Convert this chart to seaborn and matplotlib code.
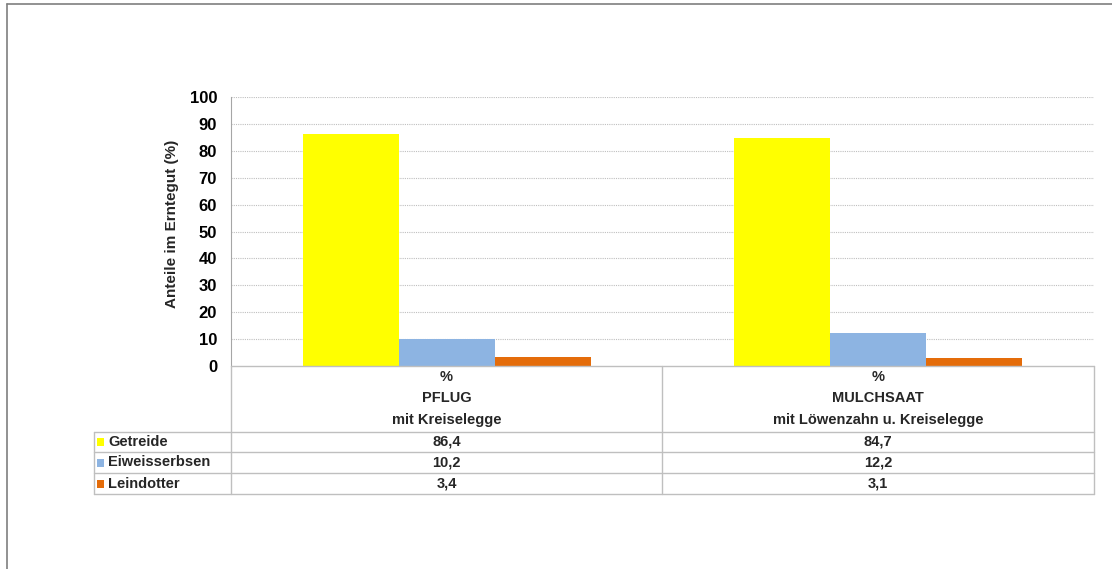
import matplotlib
matplotlib.use("Agg")
import matplotlib.pyplot as plt
from matplotlib.lines import Line2D
from matplotlib.patches import Rectangle
import seaborn as sns
import pandas as pd

# --- data -------------------------------------------------------------
categories = ["PFLUG\nmit Kreiselegge", "MULCHSAAT\nmit Löwenzahn u. Kreiselegge"]
components = ["Getreide", "Eiweisserbsen", "Leindotter"]
getreide = [86.4, 84.7]
eiweisserbsen = [10.2, 12.2]
leindotter = [3.4, 3.1]
colors = ["#FFFF00", "#8DB4E2", "#E46C0A"]
yticks = [0, 10, 20, 30, 40, 50, 60, 70, 80, 90, 100]

values = {"Getreide": getreide, "Eiweisserbsen": eiweisserbsen, "Leindotter": leindotter}
df = pd.DataFrame(
    [(cat, comp, values[comp][i]) for comp in components for i, cat in enumerate(categories)],
    columns=["Verfahren", "Komponente", "Anteil"],
)

# --- figure -----------------------------------------------------------
W, H = 1112, 569
sns.set_theme(style="white")
plt.rcParams["font.family"] = ["Liberation Sans", "DejaVu Sans"]
plt.rcParams["font.weight"] = "bold"
FS = 10.5

fig = plt.figure(figsize=(W / 100, H / 100), dpi=100)
fig.patch.set_facecolor("white")


def fx(px):
    return px / W


def fy(py):
    return 1 - py / H


left, right, top, bottom = 231, 1094, 97, 366
ax = fig.add_axes([fx(left), fy(bottom), fx(right) - fx(left), fy(top) - fy(bottom)])

sns.barplot(
    data=df, x="Verfahren", y="Anteil", hue="Komponente", order=categories,
    hue_order=components, palette=colors, width=0.668, gap=0, saturation=1,
    edgecolor="none", linewidth=0, legend=False, ax=ax,
)

ax.set_xlim(-0.5, 1.5)
ax.set_ylim(0, 100)
ax.set_yticks(yticks)
ax.set_yticklabels([str(t) for t in yticks], fontsize=12, fontweight="bold", color="black")
ax.tick_params(axis="y", length=0, pad=10)
ax.set_xticks([])
ax.set_xlabel("")
ax.set_ylabel("Anteile im Erntegut (%)", fontsize=11, fontweight="bold")
ax.yaxis.set_label_coords((179 - left) / (right - left), (bottom - 224) / (bottom - top))
for t in yticks[1:]:
    ax.axhline(t, color="#BFBFBF", linewidth=0.8, linestyle=(0, (1, 1)), zorder=0)
for s in ["top", "right", "bottom"]:
    ax.spines[s].set_visible(False)
ax.spines["left"].set_color("#A6A6A6")
ax.spines["left"].set_linewidth(0.8)
ax.set_facecolor("white")

# --- data table below the axis ---------------------------------------
line_kw = dict(color="#BFBFBF", linewidth=1.0, transform=fig.transFigure)
legend_left = 94
mid = 662
header_bottom = 432
row_edges = [432, 452, 473, 494]


def hline(x0, x1, y):
    fig.add_artist(Line2D([fx(x0), fx(x1)], [fy(y), fy(y)], **line_kw))


def vline(x, y0, y1):
    fig.add_artist(Line2D([fx(x), fx(x)], [fy(y0), fy(y1)], **line_kw))


hline(left, right, bottom)
for y in row_edges:
    hline(legend_left, right, y)
vline(left, bottom, row_edges[-1])
vline(mid, bottom, row_edges[-1])
vline(right, bottom, row_edges[-1])
vline(legend_left, header_bottom, row_edges[-1])

col_centers = [(left + mid) / 2, (mid + right) / 2]
for cx, cat in zip(col_centers, categories):
    l1, l2 = cat.split("\n")
    fig.text(fx(cx), fy(377), "%", ha="center", va="center", fontsize=FS, fontweight="bold")
    fig.text(fx(cx), fy(398), l1, ha="center", va="center", fontsize=FS, fontweight="bold")
    fig.text(fx(cx), fy(420), l2, ha="center", va="center", fontsize=FS, fontweight="bold")

for r, comp in enumerate(components):
    yc = (row_edges[r] + row_edges[r + 1]) / 2
    fig.add_artist(Rectangle((fx(97), fy(yc + 4)), 7 / W, 8 / H, transform=fig.transFigure,
                             facecolor=colors[r], edgecolor="none"))
    fig.text(fx(108), fy(yc), comp, ha="left", va="center", fontsize=FS, fontweight="bold")
    for cx, v in zip(col_centers, values[comp]):
        fig.text(fx(cx), fy(yc), f"{v:.1f}".replace(".", ","), ha="center", va="center",
                 fontsize=FS, fontweight="bold")

# --- outer chart frame -----------------------------------------------
frame_kw = dict(color="#7F7F7F", linewidth=1.2, transform=fig.transFigure)
fig.add_artist(Line2D([fx(7), 1.0], [fy(4), fy(4)], **frame_kw))
fig.add_artist(Line2D([fx(7), fx(7)], [fy(4), 0.0], **frame_kw))

fig.savefig("out.png", dpi=100, facecolor="white")
